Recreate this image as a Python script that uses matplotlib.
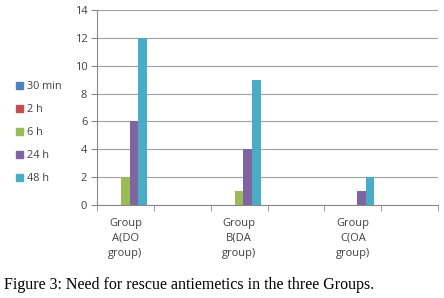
import numpy as np
import matplotlib.pyplot as plt
from matplotlib.patches import Patch

# categories (Excel chart had empty slots between groups)
groups = ['Group\nA(DO\ngroup)', '', 'Group\nB(DA\ngroup)', '', 'Group\nC(OA\ngroup)', '']
series = ['30 min', '2 h', '6 h', '24 h', '48 h']
v_30min = [0, 0, 0, 0, 0, 0]
v_2h = [0, 0, 0, 0, 0, 0]
v_6h = [2, 0, 1, 0, 0, 0]
v_24h = [6, 0, 4, 0, 1, 0]
v_48h = [12, 0, 9, 0, 2, 0]
values = [v_30min, v_2h, v_6h, v_24h, v_48h]
colors = ['#4F81BD', '#C0504D', '#9BBB59', '#8064A2', '#4BACC6']

plt.rcParams['font.family'] = ['Open Sans', 'DejaVu Sans']

fig = plt.figure(figsize=(4.44, 2.98), dpi=100)
ax = fig.add_axes([0.2185, 0.312, 0.768, 0.654])

x = np.arange(len(groups))
w = 0.152
for i, (name, vals) in enumerate(zip(series, values)):
    ax.bar(x + (i - 2) * w, vals, w, color=colors[i], label=name, linewidth=0)

ax.set_xlim(-0.5, len(groups) - 0.5)
ax.set_ylim(0, 14)
ax.set_yticks(range(0, 15, 2))
ax.yaxis.grid(True, color='#A0A0A0', linewidth=0.8)
ax.set_axisbelow(True)

ax.set_xticks(x)
ax.set_xticklabels(groups, fontsize=8, color='#404040', linespacing=1.55)
ax.set_xticks(np.arange(-0.5, len(groups)), minor=True)
ax.tick_params(axis='x', which='major', length=0, pad=9)
ax.tick_params(axis='x', which='minor', length=4, color='#888888')
ax.tick_params(axis='y', length=4, color='#888888', labelsize=8, labelcolor='#404040', pad=3)

for s in ['top', 'right']:
    ax.spines[s].set_visible(False)
ax.spines['left'].set_color('#888888')
ax.spines['bottom'].set_color('#888888')

handles = [Patch(color=c) for c in colors]
fig.legend(handles, series, loc='upper left', bbox_to_anchor=(0.015, 0.76),
           frameon=False, fontsize=7.8, handlelength=0.6, handleheight=0.6,
           handletextpad=0.4, labelspacing=1.1, labelcolor='#404040')

fig.text(0.008, 0.03, 'Figure 3: Need for rescue antiemetics in the three Groups.',
         family='Liberation Serif', fontsize=11.5, color='black')

fig.savefig('out.png', dpi=100)
